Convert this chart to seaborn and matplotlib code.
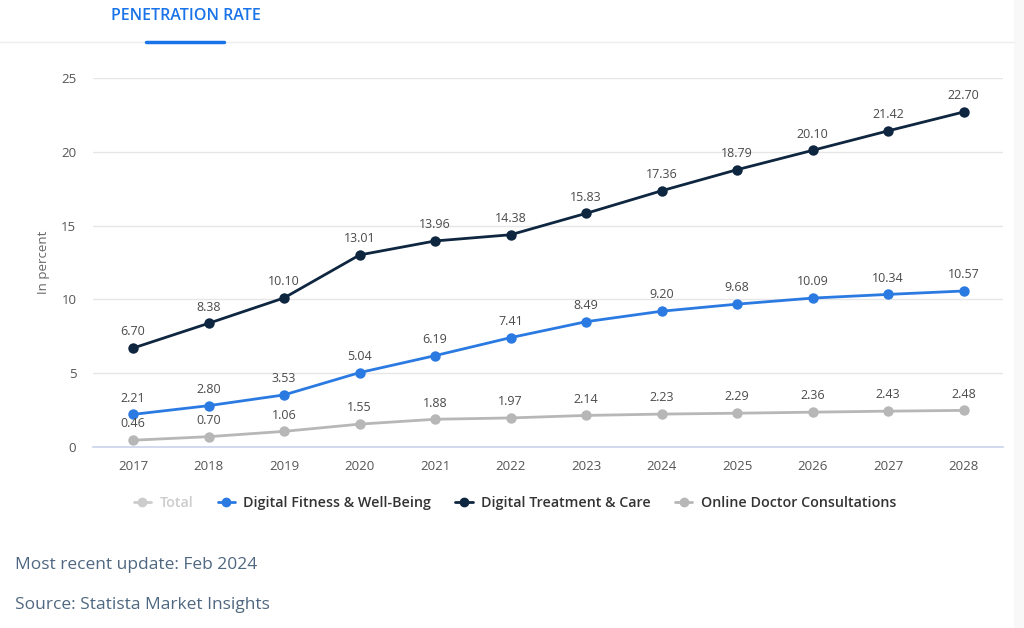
import pandas as pd
import seaborn as sns
import matplotlib.pyplot as plt
from matplotlib.lines import Line2D
from matplotlib.patches import Rectangle

# Datos del grafico
anios = [2017, 2018, 2019, 2020, 2021, 2022, 2023, 2024, 2025, 2026, 2027, 2028]
fitness = [2.21, 2.80, 3.53, 5.04, 6.19, 7.41, 8.49, 9.20, 9.68, 10.09, 10.34, 10.57]
tratamiento = [6.70, 8.38, 10.10, 13.01, 13.96, 14.38, 15.83, 17.36, 18.79, 20.10, 21.42, 22.70]
consultas = [0.46, 0.70, 1.06, 1.55, 1.88, 1.97, 2.14, 2.23, 2.29, 2.36, 2.43, 2.48]
series = ["Digital Fitness & Well-Being", "Digital Treatment & Care", "Online Doctor Consultations"]
colores = {"Digital Fitness & Well-Being": "#2a7ae2",
           "Digital Treatment & Care": "#0f2640",
           "Online Doctor Consultations": "#b7b7b7"}
yticks = [0, 5, 10, 15, 20, 25]

df = pd.DataFrame({
    "anio": anios * 3,
    "valor": fitness + tratamiento + consultas,
    "serie": [series[0]] * 12 + [series[1]] * 12 + [series[2]] * 12,
})
df["x"] = df["anio"].map({a: i for i, a in enumerate(anios)})

sns.set_theme(style="white")
plt.rcParams["font.family"] = ["Open Sans", "DejaVu Sans"]

fig = plt.figure(figsize=(10.24, 6.28), dpi=100)
# franja gris del fondo de pagina a la derecha
fig.add_artist(Rectangle((0.99, 0.0), 0.01, 1.0, transform=fig.transFigure,
                         facecolor="#f8f8f8", edgecolor="none", zorder=0))
ax = fig.add_axes([0.0908, 0.2882, 0.8887, 0.5876])

sns.lineplot(data=df, x="x", y="valor", hue="serie", palette=colores,
             marker="o", markersize=7.5, markeredgewidth=0, linewidth=2,
             legend=False, ax=ax, zorder=3)

# Etiquetas de valores
for _, fila in df.iterrows():
    ax.annotate(f"{fila['valor']:.2f}", (fila["x"], fila["valor"]),
                xytext=(0, 7), textcoords="offset points", ha="center", va="bottom",
                fontsize=9, color="#4a4a4a", zorder=4)

ax.set_xlim(-0.53, len(anios) - 1 + 0.52)
ax.set_ylim(0, 25)
ax.set_xticks(range(len(anios)))
ax.set_xticklabels([str(a) for a in anios])
ax.set_yticks(yticks)
ax.set_yticklabels([str(v) for v in yticks])
ax.tick_params(axis="both", labelsize=9.5, colors="#555555", length=0)
ax.tick_params(axis="x", pad=9)
ax.tick_params(axis="y", pad=12)
ax.grid(axis="y", color="#e6e6e6", linewidth=1)
ax.set_axisbelow(True)
for lado in ["top", "right", "left"]:
    ax.spines[lado].set_visible(False)
ax.spines["bottom"].set_color("#ccd6eb")
ax.set_xlabel("")
ax.set_ylabel("In percent", fontsize=9.5, color="#666666", labelpad=8)

# Leyenda
handles = [Line2D([], [], color="#cccccc", marker="o", markersize=6, linewidth=2),
           Line2D([], [], color=colores[series[0]], marker="o", markersize=6, linewidth=2),
           Line2D([], [], color=colores[series[1]], marker="o", markersize=6, linewidth=2),
           Line2D([], [], color=colores[series[2]], marker="o", markersize=6, linewidth=2)]
leg = fig.legend(handles, ["Total"] + series, loc="center", bbox_to_anchor=(0.503, 0.199),
                 ncol=4, frameon=False, handlelength=1.2, handletextpad=0.6,
                 columnspacing=1.7, prop={"weight": "semibold", "size": 10.3})
textos = leg.get_texts()
textos[0].set_color("#cccccc")
for t in textos[1:]:
    t.set_color("#333333")

# Cabecera
fig.text(0.108, 0.974, "PENETRATION RATE", fontsize=11.5, fontweight="semibold",
         color="#1a73e8", va="center", ha="left")
fig.add_artist(Line2D([0, 0.99], [0.933, 0.933], color="#eeeeee", linewidth=1))
fig.add_artist(Line2D([0.1426, 0.2187], [0.933, 0.933], color="#1a73e8", linewidth=2.5))

# Pie
fig.text(0.0146, 0.100, "Most recent update: Feb 2024", fontsize=12.5, color="#4f6780",
         va="center", ha="left")
fig.text(0.0146, 0.036, "Source: Statista Market Insights", fontsize=12.5, color="#4f6780",
         va="center", ha="left")

fig.savefig("out.png", dpi=100, facecolor="white")
